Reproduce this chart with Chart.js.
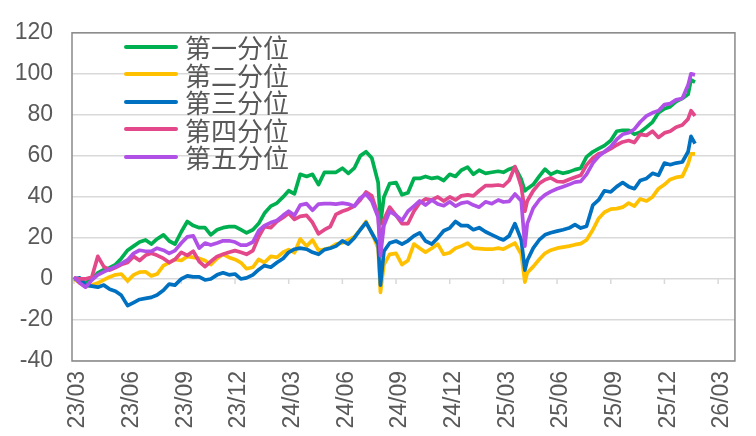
<!DOCTYPE html>
<html>
<head>
<meta charset="utf-8">
<script src="https://cdn.jsdelivr.net/npm/chart.js@4.4.1/dist/chart.umd.min.js"></script>
<style>
  html, body { margin: 0; padding: 0; background: #fff; }
  #wrap { position: relative; width: 756px; height: 436px; }
  #legend { position: absolute; left: 124px; top: 33px; font-family: "Noto Sans CJK SC", sans-serif; font-size: 26px; color: #595959; }
  .row { display: flex; align-items: center; height: 27.5px; line-height: 27.5px; }
  .swatch { width: 54px; height: 4px; border-radius: 2px; margin-right: 7px; }
</style>
</head>
<body>
<div id="wrap">
  <canvas id="chart" width="756" height="436"></canvas>
  <div id="legend"></div>
</div>
<script>
// 日期(约每10天一个点)
const dates = [
  '2023-03-01','2023-03-11','2023-03-21','2023-04-01','2023-04-11','2023-04-21',
  '2023-05-01','2023-05-11','2023-05-21','2023-06-01','2023-06-11','2023-06-21',
  '2023-07-01','2023-07-11','2023-07-21','2023-08-01','2023-08-11','2023-08-21',
  '2023-09-01','2023-09-11','2023-09-21','2023-10-01','2023-10-11','2023-10-21',
  '2023-11-01','2023-11-11','2023-11-21','2023-12-01','2023-12-11','2023-12-21',
  '2024-01-01','2024-01-11','2024-01-21','2024-02-01','2024-02-11','2024-02-21',
  '2024-03-01','2024-03-11','2024-03-21','2024-04-01','2024-04-11','2024-04-21',
  '2024-05-01','2024-05-11','2024-05-21','2024-06-01','2024-06-11','2024-06-21',
  '2024-07-01','2024-07-11','2024-07-21','2024-08-01','2024-08-05','2024-08-11','2024-08-21',
  '2024-09-01','2024-09-11','2024-09-21','2024-10-01','2024-10-11','2024-10-21',
  '2024-11-01','2024-11-11','2024-11-21','2024-12-01','2024-12-11','2024-12-21',
  '2025-01-01','2025-01-11','2025-01-21','2025-02-01','2025-02-11','2025-02-21',
  '2025-03-01','2025-03-11','2025-03-21','2025-04-01','2025-04-07','2025-04-11','2025-04-21',
  '2025-05-01','2025-05-11','2025-05-21','2025-06-01','2025-06-11','2025-06-21',
  '2025-07-01','2025-07-11','2025-07-21','2025-08-01','2025-08-11','2025-08-21',
  '2025-09-01','2025-09-11','2025-09-21','2025-10-01','2025-10-11','2025-10-21',
  '2025-11-01','2025-11-11','2025-11-21','2025-12-01','2025-12-11','2025-12-21',
  '2026-01-01','2026-01-11','2026-01-16','2026-01-23'
];

const tickLabels = ['23/03','23/06','23/09','23/12','24/03','24/06','24/09','24/12','25/03','25/06','25/09','25/12','26/03'];

const seriesNames = ['第一分位','第二分位','第三分位','第四分位','第五分位'];
const seriesColors = ['#00B050','#FFC000','#0070C0','#E2488A','#B150E7'];

const q1 = [
  0,0,-2, 0,3,4.5, 5.5,7,10, 14,16,18, 19,17,19.5, 21.5,18.5,17, 23,28,26, 25,25,21.5, 24,25,25.5, 25.5,24,22.5,
  24,27,32, 35.5,37,40, 43,41.5,51, 50,51,46, 52,52,52, 54,51.5,54, 60,62,59, 47,27,40,46.5,
  47,41,42, 49,49,50, 49,49.5,48, 51,50,53,
  54.5,51,53, 51.5,52,52.5, 52,53.5,54.5, 48.5,43,44,46, 50,53.5,51, 52.4,51.5,52.2, 53.3,54,59.5,
  62,63.5,65, 67.5,72,72.5, 72.5,70.5,71.5, 74,76.5,81, 83,84,86.5,
  88,90,97,96
];
const q2 = [
  0,-2,-3.5, -3,-2,-0.5, 1,2,2.4, -1,2,3.3, 3.5,1.5,2.4, 6.5,8,9.5, 9,11,10.5, 10,9,7, 10,12,10.5, 9.5,8,5,
  5.7,9.5,8, 11,10.5,13, 14.3,12.8,19.5, 16,19,14, 14.5,15.2,17, 17.6,19,20.5, 24,28,22.5, 15,-6.5,7,12,
  12.5,7,9, 17,15,13, 15,17,12, 12.8,15,16,
  17.5,15,14.8, 14.5,14.5,15, 14.5,16,17.5, 12,-1.5,3,6, 9.5,12.5,14, 15,15.5,16, 16.7,17.2,19,
  24,29.5,32.5, 34,34.3,35, 37,35.5,39, 38,40,44, 46,48.5,49.5,
  50,56,61,61
];
const q3 = [
  0,0.5,-3, -3.5,-4,-3, -5,-6,-8, -13,-11.5,-10, -9.5,-9,-7.8, -5.5,-2.5,-3, 0,1.5,1, 1,-0.5,0, 2,3,2, 2.4,0,0.5,
  2,4.5,6.5, 5.7,8,10, 13,14.5,15, 14.5,13,12, 14.3,15,16, 18.6,17,20, 24,27.5,22.4, 17,-3,13.5,17.5,
  18.5,17,18.6, 21,22.5,18.5, 17,20,23.5, 24.8,28,26,
  26,24,25, 23,21.5,20, 19,21,27, 19,4.3,9,15, 19,21.5,22.5, 23.3,24,24.8, 26.5,24.8,25.7,
  36,38.5,43, 42.4,45,47, 45,44,48, 49,51.5,50.5, 56.5,55.7,56.5,
  57,62,69.5,66
];
const q4 = [
  0.5,0,0, 1,11,6, 4.3,5.5,7, 8,11,9, 11.5,12.5,11.5, 10,8,9.5, 13,11.5,13.5, 8.5,6,8.5, 11,12,13, 13.8,13,12,
  13.8,20.5,25.5, 25,28,30, 32,29,30.5, 31,27.5,22, 24,25.5,31.5, 33,34,35.5, 38.5,42.4,40.5, 31,14.3,29,35,
  31,27,27, 33,37,39, 38.5,40,38, 40,38.5,40.5,
  41,40.5,43, 45.5,45.5,45.8, 45.3,48,54.8, 45,33,38,43, 46.5,48.4,49.3, 47.5,47.3,48.5, 49.6,50.5,55.5,
  59,61,61.8, 63.5,65.3,66.8, 67.5,66.5,70.5, 70,72,69, 71.2,72,74,
  75,78,82,79.5
];
const q5 = [
  1,-2,-4, -0.5,2,3.5, 4.8,6,7.5, 9.3,12.5,14, 13.5,13.5,15, 14,12.5,13.8, 17.5,20.5,21, 15,17.5,16.5, 17.5,18.6,18.6, 18,16.5,16.5,
  18,23.5,26, 27.5,28.5,31, 33,31,36, 36.7,33.5,36.5, 36.7,36.7,36.5, 37,36.5,35.5, 39.5,41.4,38, 30,11.4,26,33,
  31,28.5,33, 35.5,38,36, 38.5,36.5,35.7, 37.6,35.5,37,
  37.5,36,35, 37.6,36.7,38.5, 37.5,37.8,41.4, 38,16,27,34.5, 38.5,41,42.6, 44,45,46, 47.2,47.6,51,
  56.5,59.8,62, 64.5,68,70.5, 71.3,73,76.5, 79.5,81,82, 85,85.5,87.3,
  88,94.5,100,99.5
];
const seriesValues = [q1, q2, q3, q4, q5];

// 日期 -> 自2023年3月起的月数
function monthIndex(s) {
  const [y, m, d] = s.split('-').map(Number);
  const dim = new Date(y, m, 0).getDate();
  return (y - 2023) * 12 + (m - 3) + (d - 1) / dim;
}

const textColor = '#595959';
const tickFont = { family: '"Liberation Sans", Arial, sans-serif', size: 23 };

// 图例
const legend = document.getElementById('legend');
seriesNames.forEach((name, i) => {
  const row = document.createElement('div');
  row.className = 'row';
  row.innerHTML = '<span class="swatch" style="background:' + seriesColors[i] + '"></span><span>' + name + '</span>';
  legend.appendChild(row);
});

// 外框和0轴上的刻度
const framePlugin = {
  id: 'frame',
  beforeDatasetsDraw(chart) {
    const { ctx, scales: { x, y } } = chart;
    const y0 = y.getPixelForValue(0);
    ctx.save();
    ctx.strokeStyle = '#d9d9d9';
    ctx.lineWidth = 1.5;
    ctx.beginPath();
    tickLabels.forEach((t, i) => {
      const px = x.getPixelForValue(i * 3);
      ctx.moveTo(px, y0);
      ctx.lineTo(px, y0 + 5);
    });
    ctx.stroke();
    ctx.restore();
  },
  afterDraw(chart) {
    const { ctx, chartArea: a } = chart;
    ctx.save();
    ctx.strokeStyle = '#898989';
    ctx.lineWidth = 1.5;
    ctx.strokeRect(a.left, a.top, a.right - a.left, a.bottom - a.top);
    ctx.restore();
  }
};

const ctx = document.getElementById('chart').getContext('2d');
new Chart(ctx, {
  type: 'line',
  data: {
    datasets: seriesValues.map((vals, i) => ({
      label: seriesNames[i],
      data: dates.map((d, j) => ({ x: monthIndex(d), y: vals[j] })),
      borderColor: seriesColors[i],
      borderWidth: 3.7,
      borderJoinStyle: 'round',
      pointRadius: 0,
      tension: 0,
      fill: false,
      order: 5 - i
    }))
  },
  options: {
    responsive: false,
    animation: false,
    layout: { padding: { top: 24, right: 11, left: 0, bottom: 0 } },
    plugins: { legend: { display: false }, tooltip: { enabled: false } },
    scales: {
      x: {
        type: 'linear',
        min: -0.11,
        max: 36.94,
        grid: { display: false, drawTicks: false },
        border: { display: false },
        afterBuildTicks: s => { s.ticks = tickLabels.map((t, i) => ({ value: i * 3 })); },
        ticks: {
          autoSkip: false,
          minRotation: 90,
          maxRotation: 90,
          padding: 10,
          labelOffset: 4,
          color: textColor,
          font: tickFont,
          callback: v => tickLabels[Math.round(v / 3)]
        },
        afterFit: s => { s.height = 75; }
      },
      y: {
        min: -40,
        max: 120,
        grid: { color: '#d9d9d9', lineWidth: 1.5, drawTicks: false },
        border: { display: false },
        ticks: { stepSize: 20, padding: 19, color: textColor, font: tickFont },
        afterFit: s => { s.width = 72; }
      }
    }
  },
  plugins: [framePlugin]
});
</script>
</body>
</html>
